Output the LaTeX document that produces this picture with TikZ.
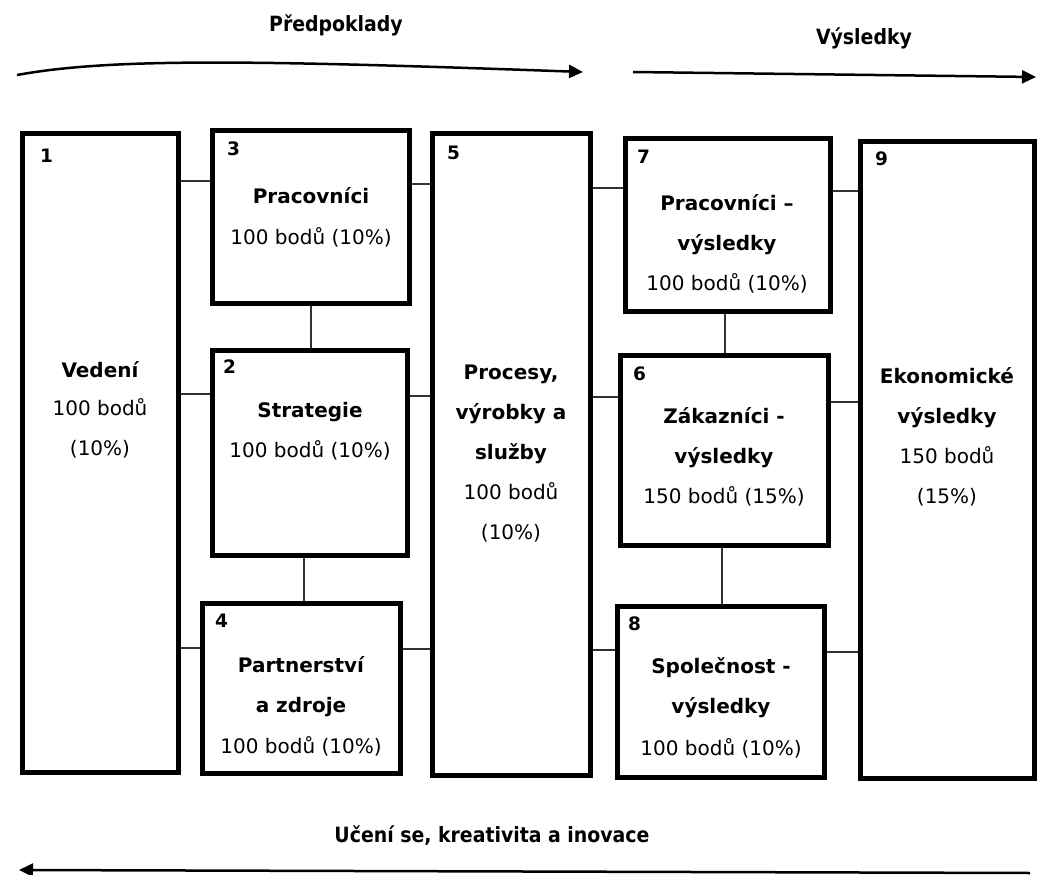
\documentclass[tikz,border=0pt]{standalone}
\usepackage{fontspec}
\setmainfont{DejaVu Sans}
\newfontfamily\condf{DejaVu Sans Condensed}
\usetikzlibrary{arrows.meta}
\begin{document}
\begin{tikzpicture}[x=1pt,y=-1pt,
  box/.style={draw, line width=5pt, rectangle, inner sep=0pt},
  num/.style={anchor=base west, inner sep=0pt, font=\fontsize{18.5}{20}\selectfont\bfseries},
  hd/.style={anchor=base, inner sep=0pt, font=\fontsize{20}{24}\selectfont\bfseries},
  tx/.style={anchor=base, inner sep=0pt, font=\fontsize{20}{24}\selectfont},
  ttl/.style={anchor=base, inner sep=0pt, font=\condf\fontsize{21}{25}\selectfont\bfseries},
  conn/.style={draw=black!80, line width=1.2pt},
  arr/.style={line width=2.5pt, -{Triangle[length=14pt,width=13pt]}}
]
\useasboundingbox (0,0) rectangle (1037,875);

% boxes
\node[box, minimum width=156pt, minimum height=639pt] (b1) at (100,452.5) {};
\node[box, minimum width=197pt, minimum height=173pt] (b3) at (310.5,216.5) {};
\node[box, minimum width=195pt, minimum height=205pt] (b2) at (309.5,452.5) {};
\node[box, minimum width=198pt, minimum height=170pt] (b4) at (301,688) {};
\node[box, minimum width=158pt, minimum height=642pt] (b5) at (511,454) {};
\node[box, minimum width=205pt, minimum height=173pt] (b7) at (727.5,224.5) {};
\node[box, minimum width=208pt, minimum height=190pt] (b6) at (724,450) {};
\node[box, minimum width=207pt, minimum height=171pt] (b8) at (720.5,691.5) {};
\node[box, minimum width=174pt, minimum height=637pt] (b9) at (947,459.5) {};

% numbers
\node[num] (n1) at (40,162) {1};
\node[num] (n3) at (227,155) {3};
\node[num] (n2) at (223,373) {2};
\node[num] (n4) at (215,627) {4};
\node[num] (n5) at (447,159) {5};
\node[num] (n7) at (637,163) {7};
\node[num] (n6) at (633,380) {6};
\node[num] (n8) at (628,630) {8};
\node[num] (n9) at (875,165) {9};

% texts
\node[hd] (t1a) at (100,377) {Vedení};
\node[tx] (t1b) at (100,415) {100 bodů};
\node[tx] (t1c) at (100,455) {(10\%)};

\node[hd] (t3a) at (311,203) {Pracovníci};
\node[tx] (t3b) at (311,244) {100 bodů (10\%)};

\node[hd] (t2a) at (310,417) {Strategie};
\node[tx] (t2b) at (310,457) {100 bodů (10\%)};

\node[hd] (t4a) at (301,672) {Partnerství};
\node[hd] (t4b) at (301,712) {a zdroje};
\node[tx] (t4c) at (301,753) {100 bodů (10\%)};

\node[hd] (t5a) at (511,379) {Procesy,};
\node[hd] (t5b) at (511,419) {výrobky a};
\node[hd] (t5c) at (511,459) {služby};
\node[tx] (t5d) at (511,499) {100 bodů};
\node[tx] (t5e) at (511,539) {(10\%)};

\node[hd] (t7a) at (727,210) {Pracovníci –};
\node[hd] (t7b) at (727,250) {výsledky};
\node[tx] (t7c) at (727,290) {100 bodů (10\%)};

\node[hd] (t6a) at (724,423) {Zákazníci -};
\node[hd] (t6b) at (724,463) {výsledky};
\node[tx] (t6c) at (724,503) {150 bodů (15\%)};

\node[hd] (t8a) at (721,673) {Společnost -};
\node[hd] (t8b) at (721,713) {výsledky};
\node[tx] (t8c) at (721,755) {100 bodů (10\%)};

\node[hd] (t9a) at (947,383) {Ekonomické};
\node[hd] (t9b) at (947,423) {výsledky};
\node[tx] (t9c) at (947,463) {150 bodů};
\node[tx] (t9d) at (947,503) {(15\%)};

% connectors
\draw[conn] (b1.east |- 0,181) -- (b3.west |- 0,181);
\draw[conn] (b3.east |- 0,184) -- (b5.west |- 0,184);
\draw[conn] (b5.east |- 0,188) -- (b7.west |- 0,188);
\draw[conn] (b7.east |- 0,191) -- (b9.west |- 0,191);
\draw[conn] (b1.east |- 0,394) -- (b2.west |- 0,394);
\draw[conn] (b2.east |- 0,396) -- (b5.west |- 0,396);
\draw[conn] (b5.east |- 0,397) -- (b6.west |- 0,397);
\draw[conn] (b6.east |- 0,402) -- (b9.west |- 0,402);
\draw[conn] (b1.east |- 0,648) -- (b4.west |- 0,648);
\draw[conn] (b4.east |- 0,649) -- (b5.west |- 0,649);
\draw[conn] (b5.east |- 0,650) -- (b8.west |- 0,650);
\draw[conn] (b8.east |- 0,652) -- (b9.west |- 0,652);
\draw[conn] (b3.south -| 311,0) -- (b2.north -| 311,0);
\draw[conn] (b2.south -| 304,0) -- (b4.north -| 304,0);
\draw[conn] (b7.south -| 725,0) -- (b6.north -| 725,0);
\draw[conn] (b6.south -| 722,0) -- (b8.north -| 722,0);

% flow arrows
\coordinate (p1s) at (17,75);
\coordinate (p1e) at (583,72);
\coordinate (p2s) at (633,72);
\coordinate (p2e) at (1036,77);
\coordinate (p3s) at (1030,873);
\coordinate (p3e) at (19,870);
\draw[arr] (p1s) .. controls (110,58) and (250,60) .. (p1e);
\draw[arr] (p2s) -- (p2e);
\draw[arr] (p3s) -- (p3e);

\node[ttl] (tt1) at (336,32) {Předpoklady};
\node[ttl] (tt2) at (864,45) {Výsledky};
\node[ttl] (tt3) at (492,842) {Učení se, kreativita a inovace};
\end{tikzpicture}
\end{document}
